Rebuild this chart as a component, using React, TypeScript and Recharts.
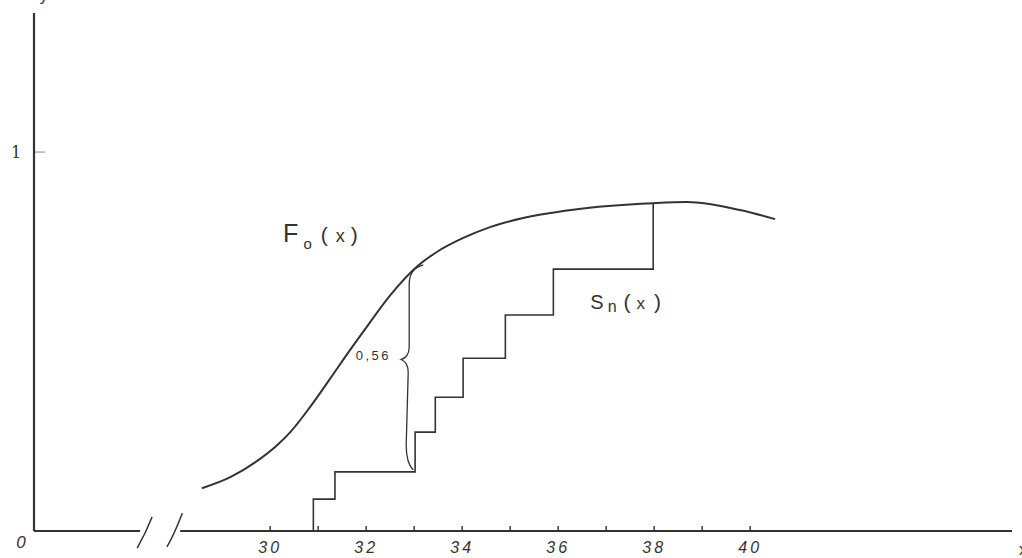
import React from 'react';
import { ComposedChart, Line, XAxis, YAxis, ReferenceLine, ReferenceDot } from 'recharts';

// F0(x): hypothesised distribution curve
const f0X = [28.58, 29.17, 29.73, 30.15, 30.42, 30.83, 31.25, 31.6, 31.94, 32.5, 33.06, 33.48, 34.0, 34.58, 35.27, 36.31, 37.98, 38.69, 39.79, 40.52];
const f0Y = [0.113, 0.142, 0.185, 0.227, 0.261, 0.327, 0.402, 0.466, 0.526, 0.622, 0.698, 0.737, 0.772, 0.802, 0.826, 0.848, 0.865, 0.868, 0.847, 0.823];

// Sn(x): empirical step function
const snX = [30.9, 30.9, 31.35, 33.02, 33.44, 34.02, 34.9, 35.9, 37.98];
const snY = [0, 0.084, 0.156, 0.261, 0.353, 0.456, 0.57, 0.691, 0.865];

// axis ticks
const xTicks = [30, 31, 32, 33, 34, 35, 36, 37, 38, 39, 40];
const xTickLabels = ['30', '', '32', '', '34', '', '36', '', '38', '', '40'];
const yTicks = [1];
const yTickLabels = ['1'];

// annotation values
const gapValue = '0,56';
const braceTop = { x: 33.19, y: 0.702 };
const braceBottom = { x: 32.98, y: 0.161 };
const gapLabelPos = { x: 32.15, y: 0.464 };
const f0LabelPos = { x: 30.27, y: 0.763 };
const snLabelPos = { x: 36.67, y: 0.586 };

const X_MIN = 25.08;
const X_MAX = 45.455;
const Y_MAX = 1.367;
const breakLeft = 27.29;
const breakRight = 28.125;
const slash1 = [{ x: 27.54, y: 0.037 }, { x: 27.23, y: -0.045 }];
const slash2 = [{ x: 28.17, y: 0.047 }, { x: 27.85, y: -0.042 }];

const f0Data = f0X.map((x, i) => ({ x, y: f0Y[i] }));
const snData = snX.map((x, i) => ({ x, s: snY[i] }));

const INK = '#333';
const FONT = '"Liberation Sans", "DejaVu Sans", sans-serif';

const XTick = (props: any) => {
  const { x, y, payload } = props;
  const idx = xTicks.indexOf(payload.value);
  const lbl = idx >= 0 ? xTickLabels[idx] : '';
  return (
    <g>
      <line x1={x} y1={y} x2={x} y2={y - 5} stroke={INK} strokeWidth={1.4} />
      {lbl ? (
        <text x={x} y={y + 22} textAnchor="middle" fontFamily={FONT} fontStyle="italic" fontSize={16} letterSpacing={3} fill={INK}>
          {lbl}
        </text>
      ) : null}
    </g>
  );
};

const YTick = (props: any) => {
  const { x, y, payload } = props;
  const idx = yTicks.indexOf(payload.value);
  return (
    <g>
      <line x1={x + 1} y1={y} x2={x + 11} y2={y} stroke="#888" strokeWidth={1} />
      <text x={x - 18} y={y + 6} textAnchor="middle" fontFamily='"DejaVu Serif", serif' fontSize={16} fill={INK}>
        {yTickLabels[idx]}
      </text>
    </g>
  );
};

const Brace = (props: any) => {
  const { x1, y1, x2, y2 } = props;
  const top = y1 < y2 ? { x: x1, y: y1 } : { x: x2, y: y2 };
  const bot = y1 < y2 ? { x: x2, y: y2 } : { x: x1, y: y1 };
  const arm = Math.min(top.x, bot.x) - 4;
  const tipX = arm - 8;
  const ym = (top.y + bot.y) / 2 - 8;
  const d = [
    `M ${top.x} ${top.y}`,
    `C ${arm + 4} ${top.y + 3}, ${arm} ${top.y + 9}, ${arm} ${top.y + 20}`,
    `L ${arm} ${ym - 12}`,
    `C ${arm} ${ym - 5}, ${tipX + 4} ${ym - 1}, ${tipX} ${ym}`,
    `C ${tipX + 5} ${ym + 2}, ${arm - 1} ${ym + 6}, ${arm - 1} ${ym + 13}`,
    `L ${arm - 3} ${bot.y - 25}`,
    `C ${arm - 3} ${bot.y - 12}, ${arm} ${bot.y - 4}, ${bot.x} ${bot.y}`,
  ].join(' ');
  return <path d={d} fill="none" stroke={INK} strokeWidth={1.3} />;
};

const Slash = (props: any) => {
  const { x1, y1, x2, y2 } = props;
  const d = `M ${x1} ${y1} C ${x1 - 4} ${y1 + 10}, ${x2 + 8} ${y2 - 14}, ${x2} ${y2}`;
  return <path d={d} fill="none" stroke={INK} strokeWidth={1.5} />;
};

const F0Label = (props: any) => {
  const { cx, cy } = props;
  return (
    <text x={cx} y={cy} fontFamily={FONT} fill={INK} fontWeight={300}>
      <tspan fontSize={25}>F</tspan>
      <tspan fontSize={15} dx={5} dy={7}>o</tspan>
      <tspan fontSize={21} dx={9} dy={-7}>(</tspan>
      <tspan fontSize={18} dx={8}>x</tspan>
      <tspan fontSize={21} dx={6}>)</tspan>
    </text>
  );
};

const SnLabel = (props: any) => {
  const { cx, cy } = props;
  return (
    <text x={cx} y={cy} fontFamily={FONT} fill={INK}>
      <tspan fontSize={20}>S</tspan>
      <tspan fontSize={16} dx={4} dy={3}>n</tspan>
      <tspan fontSize={21} dx={7} dy={-3}>(</tspan>
      <tspan fontSize={17} dx={6}>x</tspan>
      <tspan fontSize={21} dx={9}>)</tspan>
    </text>
  );
};

const GapLabel = (props: any) => {
  const { cx, cy } = props;
  return (
    <text x={cx} y={cy} textAnchor="middle" dominantBaseline="central" fontFamily={FONT} fontSize={13} fill={INK} letterSpacing={2.5}>
      {gapValue}
    </text>
  );
};

export default function App() {
  return (
    <div style={{ position: 'fixed', left: 0, top: 0, width: 1022, height: 558, background: '#fff' }}>
      <ComposedChart width={1022} height={558} margin={{ top: 13, right: 10, bottom: 0, left: 0 }}>
        <XAxis
          type="number"
          dataKey="x"
          domain={[X_MIN, X_MAX]}
          allowDataOverflow
          ticks={xTicks}
          interval={0}
          height={27}
          axisLine={false}
          tickLine={false}
          tickSize={0}
          tickMargin={0}
          tick={<XTick />}
        />
        <YAxis
          type="number"
          domain={[0, Y_MAX]}
          allowDataOverflow
          ticks={yTicks}
          width={34}
          axisLine={{ stroke: INK, strokeWidth: 2.2 }}
          tickLine={false}
          tickSize={0}
          tickMargin={0}
          tick={<YTick />}
        />
        <ReferenceLine segment={[{ x: X_MIN, y: 0 }, { x: breakLeft, y: 0 }]} stroke={INK} strokeWidth={2.2} ifOverflow="visible" />
        <ReferenceLine segment={[{ x: breakRight, y: 0 }, { x: X_MAX, y: 0 }]} stroke={INK} strokeWidth={2.2} ifOverflow="visible" />
        <ReferenceLine segment={slash1} ifOverflow="visible" shape={<Slash />} />
        <ReferenceLine segment={slash2} ifOverflow="visible" shape={<Slash />} />
        <Line data={f0Data} dataKey="y" type="monotone" stroke={INK} strokeWidth={2} dot={false} isAnimationActive={false} />
        <Line data={snData} dataKey="s" type="stepAfter" stroke={INK} strokeWidth={1.6} dot={false} isAnimationActive={false} />
        <ReferenceLine segment={[braceTop, braceBottom]} ifOverflow="visible" shape={<Brace />} />
        <ReferenceDot x={gapLabelPos.x} y={gapLabelPos.y} r={0} ifOverflow="visible" shape={<GapLabel />} />
        <ReferenceDot x={f0LabelPos.x} y={f0LabelPos.y} r={0} ifOverflow="visible" shape={<F0Label />} />
        <ReferenceDot x={snLabelPos.x} y={snLabelPos.y} r={0} ifOverflow="visible" shape={<SnLabel />} />
        <ReferenceDot x={24.81} y={-0.045} r={0} ifOverflow="visible" shape={(p: any) => (
          <text x={p.cx} y={p.cy} textAnchor="middle" fontFamily={FONT} fontStyle="italic" fontSize={17} fill={INK}>0</text>
        )} />
        <ReferenceDot x={45.6} y={-0.05} r={0} ifOverflow="visible" shape={(p: any) => (
          <text x={p.cx} y={p.cy} dominantBaseline="central" fontFamily={FONT} fontSize={17} fill={INK}>x</text>
        )} />
        <ReferenceDot x={25.2} y={1.398} r={0} ifOverflow="visible" shape={(p: any) => (
          <text x={p.cx} y={p.cy} fontFamily={FONT} fontSize={16} fill={INK}>y</text>
        )} />
      </ComposedChart>
    </div>
  );
}
